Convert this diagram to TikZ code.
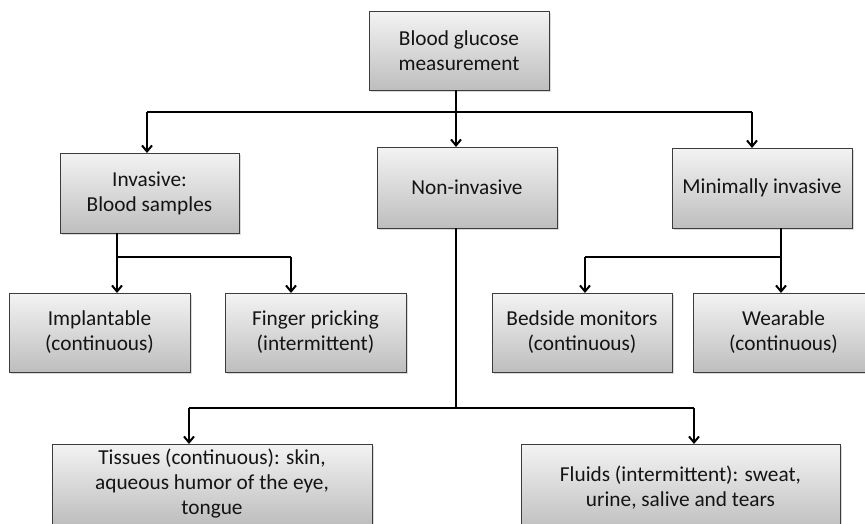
\documentclass[tikz,border=0pt]{standalone}
\usepackage{fontspec}
\setmainfont{Carlito}
\usetikzlibrary{arrows.meta,shadows}
\definecolor{boxtop}{RGB}{243,243,243}
\definecolor{boxbot}{RGB}{190,190,190}
\definecolor{boxline}{RGB}{60,60,60}
\definecolor{txt}{RGB}{20,20,20}
\tikzset{
  box/.style={rectangle, draw=boxline, line width=0.9pt, top color=boxtop, bottom color=boxbot,
    inner sep=0pt, outer sep=0pt, align=center, text=txt,
    font=\fontsize{21.3}{25}\selectfont,
    drop shadow={shadow xshift=2pt, shadow yshift=-2pt, opacity=0.3}},
  wire/.style={line width=2pt, black},
  arr/.style={wire, -{Straight Barb[length=6pt,width=10pt]}}
}
\begin{document}
\begin{tikzpicture}[x=1pt,y=-1pt]
\useasboundingbox (0,0) rectangle (865,523);
\clip (0,0) rectangle (865,523);
% nodes
\node[box, minimum width=180pt, minimum height=79pt] (top) at (459,50.5) {Blood glucose\\measurement};
\node[box, minimum width=179pt, minimum height=80pt] (inv) at (149.5,193) {Invasive:\\Blood samples};
\node[box, minimum width=180pt, minimum height=81pt] (non) at (467,187.5) {Non-invasive};
\node[box, minimum width=180pt, minimum height=80pt] (min) at (762,188) {Minimally invasive};
\node[box, minimum width=181pt, minimum height=79pt] (impl) at (99.5,332.5) {Implantable\\(continuous)};
\node[box, minimum width=181pt, minimum height=79pt] (fing) at (315.5,332.5) {Finger pricking\\(intermittent)};
\node[box, minimum width=180pt, minimum height=79pt] (bed) at (582,332.5) {Bedside monitors\\(continuous)};
\node[box, minimum width=181pt, minimum height=79pt] (wear) at (783.5,332.5) {Wearable\\(continuous)};
\node[box, minimum width=320pt, minimum height=80pt] (tis) at (212,484) {Tissues (continuous): skin,\\aqueous humor of the eye,\\tongue};
\node[box, minimum width=319pt, minimum height=88pt] (flu) at (680.5,488) {Fluids (intermittent): sweat,\\urine, salive and tears};
% level 1
\coordinate (j0) at (456,112);
\coordinate (aI) at (147,112);
\coordinate (aM) at (752,112);
\draw[wire] (top.south -| j0) -- (j0);
\draw[wire] (aI) -- (aM);
\draw[arr] (aI) -- (aI |- inv.north);
\draw[arr] (j0) -- (j0 |- non.north);
\draw[arr] (aM) -- (aM |- min.north);
% invasive
\coordinate (iL) at (117,257);
\coordinate (iR) at (291,257);
\draw[wire] (iL |- inv.south) -- (iL) -- (iR);
\draw[arr] (iL) -- (iL |- impl.north);
\draw[arr] (iR) -- (iR |- fing.north);
% minimally invasive
\coordinate (mL) at (585,257);
\coordinate (mR) at (781,257);
\draw[wire] (mR |- min.south) -- (mR) -- (mL);
\draw[arr] (mL) -- (mL |- bed.north);
\draw[arr] (mR) -- (mR |- wear.north);
% non-invasive
\coordinate (nJ) at (456,408);
\coordinate (nL) at (189,408);
\coordinate (nR) at (694,408);
\draw[wire] (nJ |- non.south) -- (nJ);
\draw[wire] (nL) -- (nR);
\draw[arr] (nL) -- (nL |- tis.north);
\draw[arr] (nR) -- (nR |- flu.north);
\end{tikzpicture}
\end{document}
